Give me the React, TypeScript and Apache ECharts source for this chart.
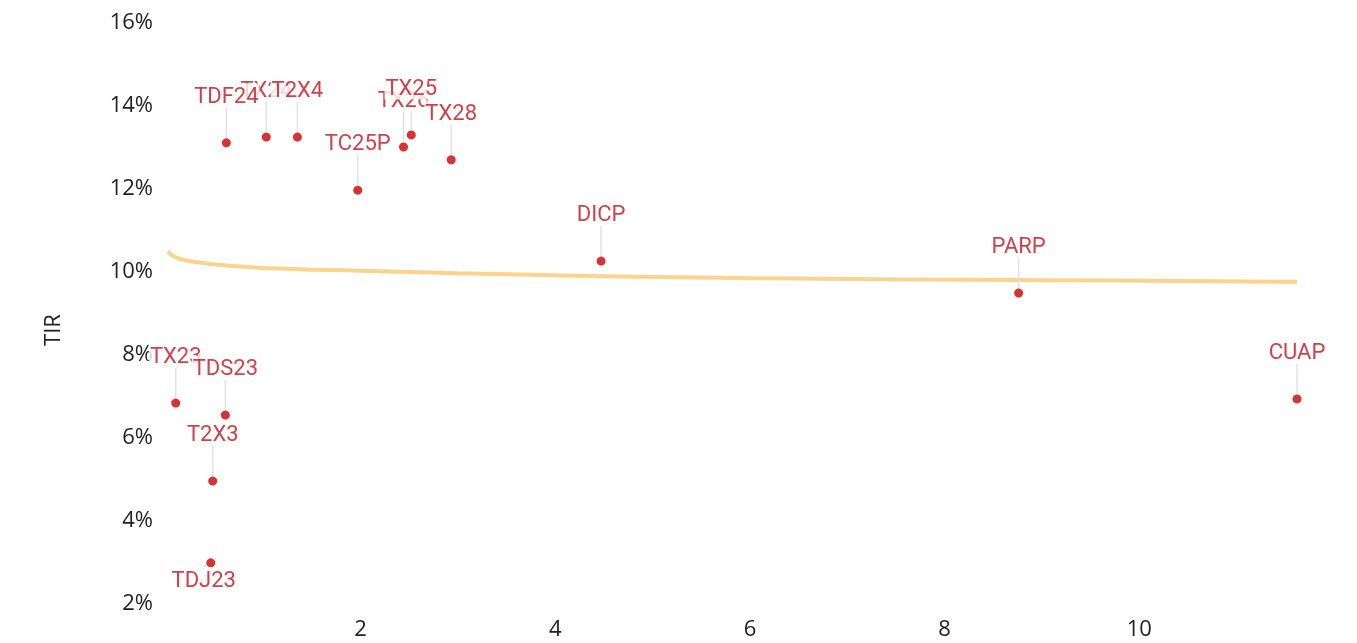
import React, { useEffect, useRef } from "react";
import * as echarts from "echarts";

const pointNames = ["TX24", "TX26", "TDF24", "T2X4", "TC25P", "TX25", "TX28", "DICP", "PARP", "CUAP", "TX23", "TDS23", "T2X3", "TDJ23"];
const pointX = [1.03, 2.44, 0.62, 1.35, 1.97, 2.52, 2.93, 4.47, 8.76, 11.62, 0.1, 0.61, 0.48, 0.46];
const pointY = [13.18, 12.94, 13.04, 13.18, 11.9, 13.23, 12.63, 10.19, 9.42, 6.87, 6.77, 6.48, 4.89, 2.92];

const curveX = [0.02, 0.1, 0.3, 0.7, 1.3, 2, 3, 4, 5, 6, 7.5, 9, 10.5, 11.62];
const curveY = [10.43, 10.28, 10.17, 10.07, 10.0, 9.96, 9.9, 9.85, 9.81, 9.78, 9.75, 9.73, 9.71, 9.69];

const belowLabel = ["TDJ23"];

export default function App() {
  const ref = useRef<HTMLDivElement>(null);
  useEffect(() => {
    if (!ref.current) return;
    const chart = echarts.init(ref.current, null, { renderer: "svg" });
    const points = pointNames.map((n, i) => ({ name: n, value: [pointX[i], pointY[i]] }));
    const curve = curveX.map((x, i) => [x, curveY[i]]);
    chart.setOption({
      animation: false,
      grid: { left: 166, right: 23, top: 20, bottom: 16 },
      xAxis: {
        type: "value",
        min: 0,
        max: 12,
        interval: 2,
        offset: -75,
        axisLine: { show: false },
        axisTick: { show: false },
        splitLine: { show: false },
        axisLabel: {
          showMinLabel: false,
          showMaxLabel: false,
          fontSize: 22,
          margin: 7,
          color: "#222",
          fontFamily: "Open Sans",
        },
      },
      yAxis: {
        type: "value",
        min: 0,
        max: 16,
        interval: 2,
        name: "TIR",
        nameLocation: "middle",
        nameGap: 104,
        nameTextStyle: { fontSize: 22, color: "#222", fontFamily: "Open Sans", padding: [0, 0, 0, 44] },
        axisLine: { show: false },
        axisTick: { show: false },
        splitLine: { show: false },
        axisLabel: {
          showMinLabel: false,
          formatter: "{value}%",
          fontSize: 22,
          margin: 13,
          color: "#222",
          fontFamily: "Open Sans",
        },
      },
      series: [
        {
          type: "line",
          data: curve,
          smooth: 0.5,
          symbol: "none",
          lineStyle: { color: "#fbd38d", width: 4 },
          z: 1,
        },
        {
          type: "scatter",
          data: points,
          symbolSize: 9,
          itemStyle: { color: "#cc0000" },
          z: 3,
          label: {
            show: true,
            position: "top",
            formatter: "{b}",
            fontFamily: "Roboto",
            fontSize: 22,
            color: "#c4101a",
            backgroundColor: "#ffffff",
            padding: [1, 1],
          },
          labelLine: {
            show: true,
            lineStyle: { color: "#e2e2e2", width: 1.5 },
          },
          labelLayout: (params: any) => {
            const name = pointNames[params.dataIndex];
            if (belowLabel.indexOf(name) >= 0) return { dy: 38, dx: -7 };
            return { dy: -26 };
          },
        },
      ],
    });
    return () => chart.dispose();
  }, []);
  return (
    <div style={{ position: "fixed", left: 0, top: 0, width: 1357, height: 643, overflow: "hidden" }}>
      <div ref={ref} style={{ width: 1357, height: 700 }} />
    </div>
  );
}
